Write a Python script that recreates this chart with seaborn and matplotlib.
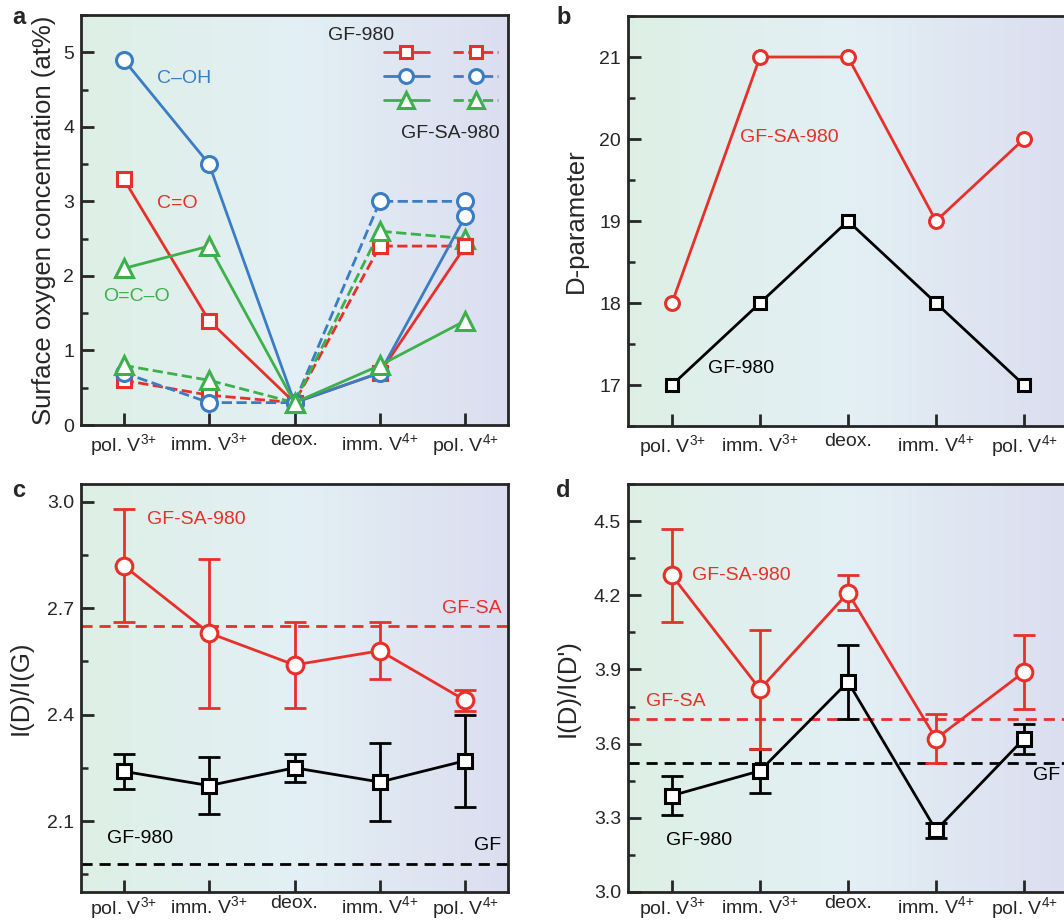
import numpy as np
import matplotlib
matplotlib.use("Agg")
import matplotlib.pyplot as plt
import seaborn as sns
from matplotlib.lines import Line2D
from matplotlib.colors import LinearSegmentedColormap
from matplotlib.ticker import MultipleLocator, FormatStrFormatter

sns.set_style("ticks")
plt.rcParams['font.family'] = ['Liberation Sans', 'DejaVu Sans']
plt.rcParams['mathtext.default'] = 'regular'

# categories shared by all panels
stages = ['pol. V$^{3{+}}$', 'imm. V$^{3{+}}$', 'deox.', 'imm. V$^{4{+}}$', 'pol. V$^{4{+}}$']
xpos = np.arange(len(stages))

# panel a: surface oxygen (at%), GF-980 solid, GF-SA-980 dashed
co_gf = [3.3, 1.4, 0.3, 0.7, 2.4]
co_sa = [0.6, 0.4, 0.3, 2.4, 2.4]
coh_gf = [4.9, 3.5, 0.3, 0.7, 2.8]
coh_sa = [0.7, 0.3, 0.3, 3.0, 3.0]
oco_gf = [2.1, 2.4, 0.3, 0.8, 1.4]
oco_sa = [0.8, 0.6, 0.3, 2.6, 2.5]

# panel b: D-parameter
dpar_sa = [18, 21, 21, 19, 20]
dpar_gf = [17, 18, 19, 18, 17]

# panel c: I(D)/I(G) with error bars (low, high)
idg_sa = [2.82, 2.63, 2.54, 2.58, 2.44]
idg_sa_lo = [2.66, 2.42, 2.42, 2.50, 2.41]
idg_sa_hi = [2.98, 2.84, 2.66, 2.66, 2.47]
idg_gf = [2.24, 2.20, 2.25, 2.21, 2.27]
idg_gf_lo = [2.19, 2.12, 2.21, 2.10, 2.14]
idg_gf_hi = [2.29, 2.28, 2.29, 2.32, 2.40]
idg_ref_sa = 2.65
idg_ref_gf = 1.98

# panel d: I(D)/I(D')
idd_sa = [4.28, 3.82, 4.21, 3.62, 3.89]
idd_sa_lo = [4.09, 3.58, 4.14, 3.52, 3.74]
idd_sa_hi = [4.47, 4.06, 4.28, 3.72, 4.04]
idd_gf = [3.39, 3.49, 3.85, 3.25, 3.62]
idd_gf_lo = [3.31, 3.40, 3.70, 3.22, 3.56]
idd_gf_hi = [3.47, 3.58, 4.00, 3.28, 3.68]
idd_ref_sa = 3.70
idd_ref_gf = 3.52

RED = '#e8302a'
BLUE = '#3b7dc4'
GREEN = '#3db04b'
BLACK = '#000000'
FS = 14

W, H = 1064, 922
fig = plt.figure(figsize=(W / 100, H / 100), dpi=100)


def px_axes(l, t, r, b):
    return fig.add_axes([l / W, 1 - b / H, (r - l) / W, (b - t) / H])


ax_a = px_axes(81, 15, 508, 425)
ax_b = px_axes(628, 16, 1068, 426)
ax_c = px_axes(81, 484, 508, 892)
ax_d = px_axes(628, 484, 1068, 892)

bg = LinearSegmentedColormap.from_list(
    'bg', [(0.87, 0.94, 0.90), (0.89, 0.94, 0.96), (0.86, 0.87, 0.94)])


def style(ax, ylim, major, minor, xpad=5):
    ax.imshow(np.linspace(0, 1, 256)[None, :], aspect='auto', cmap=bg,
              extent=[0, 1, 0, 1], transform=ax.transAxes, zorder=0)
    ax.set_xlim(-0.5, 4.5)
    ax.set_ylim(*ylim)
    ax.set_xticks(xpos)
    ax.set_xticklabels(stages, fontsize=FS)
    ax.yaxis.set_major_locator(MultipleLocator(major))
    ax.yaxis.set_minor_locator(MultipleLocator(minor))
    ax.tick_params(axis='both', which='major', direction='in', length=9,
                   width=2, labelsize=FS, pad=5)
    ax.tick_params(axis='x', which='major', pad=xpad)
    ax.tick_params(axis='y', which='minor', direction='in', length=5, width=1.8)
    ax.tick_params(axis='x', which='minor', length=0)
    for s in ax.spines.values():
        s.set_linewidth(2)
        s.set_zorder(5)


def line(ax, y, color, marker, ls='-', ms=10, z=3):
    sns.lineplot(x=xpos, y=y, ax=ax, color=color, marker=marker, linestyle=ls,
                 linewidth=2, markersize=ms, markerfacecolor='white',
                 markeredgecolor=color, markeredgewidth=2.2, zorder=z)


def errs(ax, y, lo, hi, color):
    y = np.array(y)
    ax.errorbar(xpos, y, yerr=[y - np.array(lo), np.array(hi) - y], fmt='none',
                ecolor=color, elinewidth=2, capsize=8, capthick=2, zorder=2)


# ---- a ----
style(ax_a, (0, 5.5), 1, 0.5)
ax_a.yaxis.set_major_formatter(FormatStrFormatter('%d'))
line(ax_a, co_sa, RED, 's', '--', ms=10)
line(ax_a, coh_sa, BLUE, 'o', '--', ms=11.5)
line(ax_a, oco_sa, GREEN, '^', '--', ms=12.5)
line(ax_a, co_gf, RED, 's', ms=10)
line(ax_a, coh_gf, BLUE, 'o', ms=11.5)
line(ax_a, oco_gf, GREEN, '^', ms=12.5)
ax_a.set_ylabel('Surface oxygen concentration (at%)', fontsize=18.5, labelpad=5)
ax_a.text(0.39, 4.65, 'C\u2013OH', color=BLUE, fontsize=FS, va='center')
ax_a.text(0.39, 2.97, 'C=O', color=RED, fontsize=FS, va='center')
ax_a.text(-0.24, 1.73, 'O=C\u2013O', color=GREEN, fontsize=FS, va='center')
handles = []
for ls in ['-', '--']:
    for c, m, ms in [(RED, 's', 9), (BLUE, 'o', 10), (GREEN, '^', 11)]:
        handles.append(Line2D([], [], color=c, marker=m, linestyle=ls, lw=2,
                              markersize=ms, markerfacecolor='white',
                              markeredgewidth=2.2))
ax_a.legend(handles, [''] * 6, ncol=2, frameon=False, loc='upper right',
            bbox_to_anchor=(0.977, 0.925), borderaxespad=0, borderpad=0,
            handlelength=2.4, handletextpad=0, columnspacing=1.3,
            labelspacing=0.35, fontsize=13.5)
ax_a.text(0.578, 0.951, 'GF-980', transform=ax_a.transAxes, fontsize=FS,
          va='center', ha='left')
ax_a.text(0.981, 0.712, 'GF-SA-980', transform=ax_a.transAxes, fontsize=FS,
          va='center', ha='right')

# ---- b ----
style(ax_b, (16.5, 21.5), 1, 0.5)
line(ax_b, dpar_sa, RED, 'o', ms=10)
line(ax_b, dpar_gf, BLACK, 's', ms=8.5)
ax_b.set_ylabel('D-parameter', fontsize=18.5, labelpad=8)
ax_b.text(0.77, 20.02, 'GF-SA-980', color=RED, fontsize=FS, va='center')
ax_b.text(0.41, 17.2, 'GF-980', color=BLACK, fontsize=FS, va='center')

# ---- c ----
style(ax_c, (1.9, 3.05), 0.3, 0.15, xpad=2)
ax_c.yaxis.set_major_formatter(FormatStrFormatter('%.1f'))
ax_c.axhline(idg_ref_sa, color=RED, ls='--', lw=2, dashes=(4, 2.5), zorder=1.5)
ax_c.axhline(idg_ref_gf, color=BLACK, ls='--', lw=2, dashes=(4, 2.5), zorder=1.5)
errs(ax_c, idg_gf, idg_gf_lo, idg_gf_hi, BLACK)
errs(ax_c, idg_sa, idg_sa_lo, idg_sa_hi, RED)
line(ax_c, idg_gf, BLACK, 's', ms=9.5)
line(ax_c, idg_sa, RED, 'o', ms=12)
ax_c.set_ylabel('I(D)/I(G)', fontsize=18.5, labelpad=10)
ax_c.text(0.27, 2.95, 'GF-SA-980', color=RED, fontsize=FS, va='center')
ax_c.text(4.42, 2.70, 'GF-SA', color=RED, fontsize=FS, va='center', ha='right')
ax_c.text(-0.19, 2.05, 'GF-980', color=BLACK, fontsize=FS, va='center')
ax_c.text(4.42, 2.03, 'GF', color=BLACK, fontsize=FS, va='center', ha='right')

# ---- d ----
style(ax_d, (3.0, 4.65), 0.3, 0.15, xpad=2)
ax_d.yaxis.set_major_formatter(FormatStrFormatter('%.1f'))
ax_d.axhline(idd_ref_sa, color=RED, ls='--', lw=2, dashes=(4, 2.5), zorder=1.5)
ax_d.axhline(idd_ref_gf, color=BLACK, ls='--', lw=2, dashes=(4, 2.5), zorder=1.5)
errs(ax_d, idd_gf, idd_gf_lo, idd_gf_hi, BLACK)
errs(ax_d, idd_sa, idd_sa_lo, idd_sa_hi, RED)
line(ax_d, idd_gf, BLACK, 's', ms=9.5)
line(ax_d, idd_sa, RED, 'o', ms=12)
ax_d.set_ylabel("I(D)/I(D')", fontsize=18.5, labelpad=10)
ax_d.text(0.23, 4.28, 'GF-SA-980', color=RED, fontsize=FS, va='center')
ax_d.text(-0.30, 3.77, 'GF-SA', color=RED, fontsize=FS, va='center')
ax_d.text(-0.07, 3.21, 'GF-980', color=BLACK, fontsize=FS, va='center')
ax_d.text(4.10, 3.47, 'GF', color=BLACK, fontsize=FS, va='center')

for lab, (x, y) in zip('abcd', [(12, 18), (556, 18), (12, 490), (556, 490)]):
    fig.text(x / W, 1 - y / H, lab, fontsize=17, fontweight='bold',
             va='center', ha='left')

fig.savefig('out.png', dpi=100)
